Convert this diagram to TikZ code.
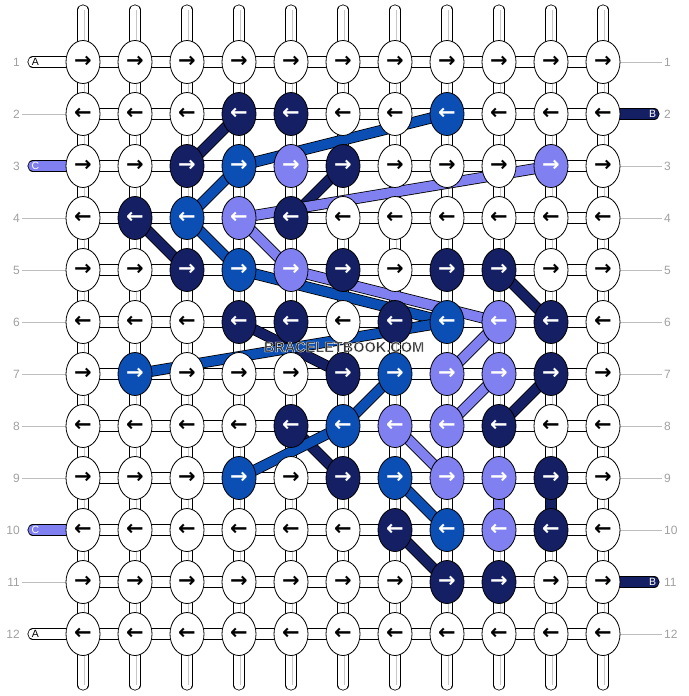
\documentclass[tikz,border=0pt]{standalone}
\usepackage{fontspec}
\setmainfont{Liberation Sans}
\newfontfamily\arrowfont{DejaVu Sans}
\usetikzlibrary{shapes.geometric}
\definecolor{navy}{RGB}{20,31,100}
\definecolor{midblue}{RGB}{12,79,180}
\definecolor{lilac}{RGB}{128,128,240}
\definecolor{numgray}{RGB}{160,160,160}
\definecolor{markgray}{RGB}{50,50,50}
\newcommand{\halo}[1]{\special{pdf:literal direct 2 Tr 0.35 w 1 1 1 RG}#1\special{pdf:literal direct 0 Tr}}
\pgfdeclarelayer{strands}
\pgfdeclarelayer{bands}
\pgfsetlayers{strands,bands,main}
\tikzset{
  knot/.style={ellipse, draw, line width=0.8pt, fill=white, minimum width=34pt,
    minimum height=43pt, inner sep=0pt, font=\arrowfont\bfseries\fontsize{21}{21}\selectfont},
  kw/.style={},
  kn/.style={fill=navy, text=white},
  km/.style={fill=midblue, text=white},
  kl/.style={fill=lilac, text=white},
  strand/.style={draw=black, double=white, line width=0.8pt, double distance=9.5pt},
  band/.style={strand, double=#1},
  endstrand/.style={strand, double=#1, line cap=round},
  rowno/.style={text=numgray, font=\fontsize{12}{12}\selectfont, inner sep=2pt},
  labline/.style={draw=numgray!70, line width=0.8pt},
  tag/.style={font=\fontsize{10.5}{10.5}\selectfont, inner sep=0pt},
}

\begin{document}
\begin{tikzpicture}[x=1pt, y=-1pt]
  \useasboundingbox (0,0) rectangle (688,696);
  % knots, row by row
  \foreach \r/\arw/\cols in {
      1/→/{kw,kw,kw,kw,kw,kw,kw,kw,kw,kw,kw},
      2/←/{kw,kw,kw,kn,kn,kw,kw,km,kw,kw,kw},
      3/→/{kw,kw,kn,km,kl,kn,kw,kw,kw,kl,kw},
      4/←/{kw,kn,km,kl,kn,kw,kw,kw,kw,kw,kw},
      5/→/{kw,kw,kn,km,kl,kn,kw,kn,kn,kw,kw},
      6/←/{kw,kw,kw,kn,kn,kw,kn,km,kl,kn,kw},
      7/→/{kw,km,kw,kw,kw,kn,km,kl,kl,kn,kw},
      8/←/{kw,kw,kw,kw,kn,km,kl,kl,kn,kw,kw},
      9/→/{kw,kw,kw,km,kw,kn,km,kl,kl,kn,kw},
      10/←/{kw,kw,kw,kw,kw,kw,kn,km,kl,kn,kw},
      11/→/{kw,kw,kw,kw,kw,kw,kw,kn,kn,kw,kw},
      12/←/{kw,kw,kw,kw,kw,kw,kw,kw,kw,kw,kw}}
    \foreach \k [count=\col] in \cols
      \node[knot, \k] (k-\r-\col) at (31+52*\col, 10+52*\r) {\arw};

  % row numbers
  \foreach \r in {1,...,12} {
    \node[rowno, anchor=east] (ln-\r) at (22, 10+52*\r) {\r};
    \node[rowno, anchor=west] (rn-\r) at (662, 10+52*\r) {\r};
  }

  \begin{pgfonlayer}{strands}
    % vertical threads
    \foreach \col in {1,...,11} {
      \coordinate (top-\col) at (31+52*\col, 10);
      \coordinate (bot-\col) at (31+52*\col, 685);
      \draw[strand, line cap=round] (top-\col) -- (bot-\col);
      \draw[gray!45, line width=1.4pt] ([xshift=1.5pt]top-\col) -- ([xshift=1.5pt]bot-\col);
    }
    % horizontal threads
    \foreach \r in {1,...,12}
      \draw[strand] (k-\r-1.center) -- (k-\r-11.center);
    \foreach \r in {2,4,5,6,7,8,9,11}
      \draw[labline] (ln-\r) -- (k-\r-1);
    \foreach \r in {1,3,4,5,6,7,8,9,10,12}
      \draw[labline] (k-\r-11) -- (rn-\r);
    % loose ends
    \foreach \r/\clr/\txt/\tc in {1/white/A/black, 3/lilac/C/white, 10/lilac/C/white, 12/white/A/black} {
      \coordinate (in-\r) at (33, 10+52*\r);
      \draw[endstrand=\clr] (in-\r) -- (k-\r-1.center);
      \node[tag, text=\tc] (tag-\r) at (35.5, 10+52*\r) {\txt};
    }
    \foreach \r in {2,11} {
      \coordinate (out-\r) at (654, 10+52*\r);
      \draw[endstrand=navy] (k-\r-11.center) -- (out-\r);
      \node[tag, text=white] (tag-\r) at (652.5, 10+52*\r) {B};
    }
  \end{pgfonlayer}

  \begin{pgfonlayer}{bands}
    \foreach \p/\q in {2-4/3-3, 3-6/4-5, 4-2/5-3, 6-4/7-6, 5-9/6-10, 7-10/8-9, 8-5/9-6, 10-7/11-8, 9-10/10-10}
      \draw[band=navy] (k-\p.center) -- (k-\q.center);
    \foreach \p/\q in {3-4/4-3, 3-4/2-8, 4-3/5-4, 5-4/6-8, 7-2/6-8, 7-7/8-6, 9-4/8-6, 9-7/10-8}
      \draw[band=midblue] (k-\p.center) -- (k-\q.center);
    \foreach \p/\q in {4-4/3-10, 4-4/5-5, 5-5/6-9, 6-9/7-8, 7-9/8-8, 8-7/9-8, 9-9/10-9}
      \draw[band=lilac] (k-\p.center) -- (k-\q.center);
  \end{pgfonlayer}

  \node[font=\bfseries\fontsize{14.5}{14.5}\selectfont, text=markgray] (mark) at (344,347) {\halo{BRACELETBOOK.COM}};
\end{tikzpicture}
\end{document}
